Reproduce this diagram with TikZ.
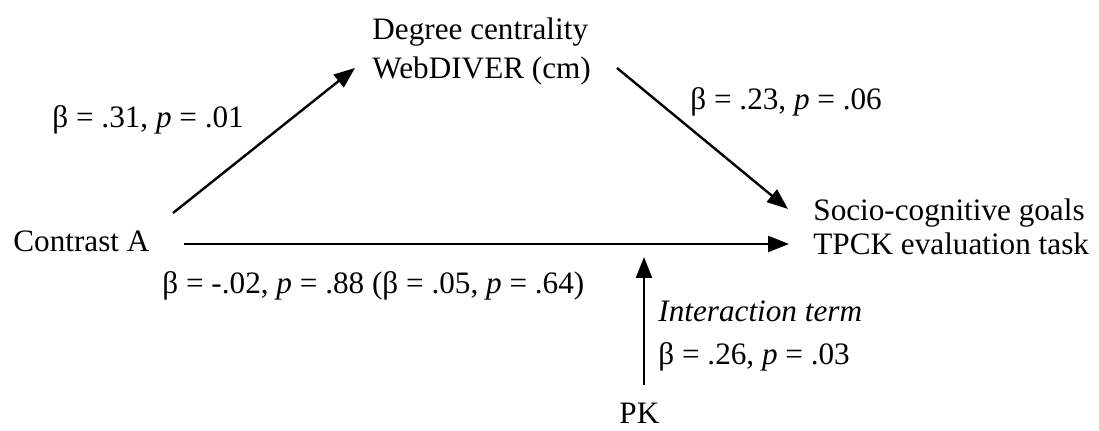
\documentclass[tikz,border=0pt]{standalone}
\usepackage{fontspec}
\setmainfont{Liberation Serif}
\usetikzlibrary{arrows.meta}
\begin{document}
\begin{tikzpicture}[x=0.5pt,y=-0.5pt,
  lbl/.style={anchor=base west,inner sep=0pt,font=\fontsize{15.6}{18}\selectfont},
  conn/.style={line width=1.2pt,-{Triangle[length=10.5pt,width=8pt]}}]
\fill[white] (0,0) rectangle (1099,431);
\useasboundingbox (0,0) rectangle (1099,431);
% nodes
\node[lbl] (ca) at (13,252) {Contrast A};
\node[lbl] (dc1) at (372,40) {Degree centrality};
\node[lbl] (dc2) at (372,79) {WebDIVER (cm)};
\node[lbl] (sg1) at (813,221) {Socio-cognitive goals};
\node[lbl] (sg2) at (813,255) {TPCK evaluation task};
\node[lbl] (pk) at (619,424) {PK};
% labels
\node[lbl] (l1) at (52,128) {β = .31, \textit{p} = .01};
\node[lbl] (l2) at (690,110) {β = .23, \textit{p} = .06};
\node[lbl] (l3) at (162,294) {β = -.02, \textit{p} = .88 (β = .05, \textit{p} = .64)};
\node[lbl] (l4) at (658,322) {\textit{Interaction term}};
\node[lbl] (l5) at (658,365) {β = .26, \textit{p} = .03};
% connector end points
\coordinate (a1s) at (173,213);
\coordinate (a1e) at (355,68);
\coordinate (a2s) at (617,68);
\coordinate (a2e) at (788,209);
\coordinate (a3s) at (184,244);
\coordinate (a3e) at (789,244);
\coordinate (a4s) at (644,385);
\coordinate (a4e) at (644,257);
\draw[conn] (a1s) -- (a1e);
\draw[conn] (a2s) -- (a2e);
\draw[conn] (a3s) -- (a3e);
\draw[conn] (a4s) -- (a4e);
\end{tikzpicture}
\end{document}
